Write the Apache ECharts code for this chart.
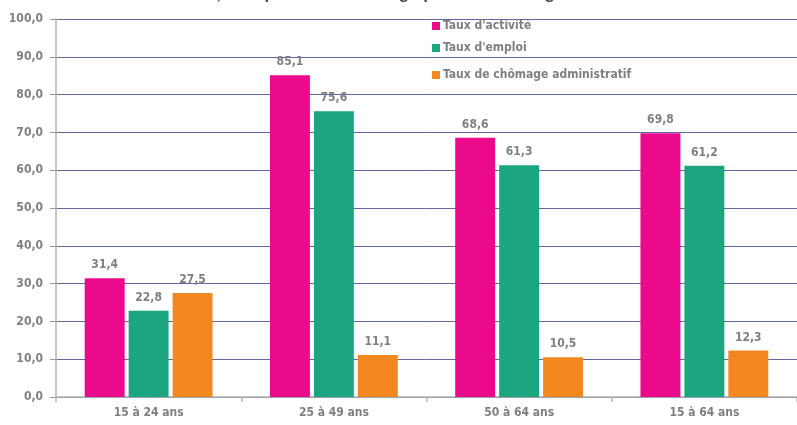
<!DOCTYPE html>
<html>
<head>
<meta charset="utf-8">
<script src="https://cdn.jsdelivr.net/npm/echarts@6/dist/echarts.min.js"></script>
<style>
html,body{margin:0;padding:0;background:#fff;}
#chart{width:797px;height:425px;}
</style>
</head>
<body>
<div id="chart"></div>
<script>
const titleText = "Taux d'activité, d'emploi et de chômage par tranche d'âge";
const categories = ["15 à 24 ans", "25 à 49 ans", "50 à 64 ans", "15 à 64 ans"];
const seriesNames = ["Taux d'activité", "Taux d'emploi", "Taux de chômage administratif"];
const tauxActivite = [31.4, 85.1, 68.6, 69.8];
const tauxEmploi = [22.8, 75.6, 61.3, 61.2];
const tauxChomage = [27.5, 11.1, 10.5, 12.3];
const colors = ["#EC0A8C", "#1BA67F", "#F4871F"];

const FONT = "'DejaVu Sans Condensed', sans-serif";
const GRAY = "#7f7f7f";
const fmt = v => v.toFixed(1).replace('.', ',');

const chart = echarts.init(document.getElementById('chart'), null, {renderer: 'canvas'});

function legendAt(name, top) {
  return {
    data: [name], left: 432, top: top, orient: 'vertical',
    itemWidth: 8, itemHeight: 8, itemGap: 0, padding: 0, icon: 'rect',
    textStyle: {color: GRAY, fontFamily: FONT, fontWeight: 'bold', fontSize: 12, padding: [0,0,0,-2]}
  };
}

const dataSets = [tauxActivite, tauxEmploi, tauxChomage];

chart.setOption({
  animation: false,
  title: {
    text: titleText, left: 100, top: -14, padding: 0,
    textStyle: {color: '#4a4a4a', fontFamily: "'Liberation Sans', sans-serif", fontWeight: 'bold', fontSize: 17}
  },
  legend: [legendAt(seriesNames[0], 20), legendAt(seriesNames[1], 42), legendAt(seriesNames[2], 69)],
  grid: {left: 56, right: -3, top: 19, bottom: 28, containLabel: false},
  xAxis: {
    type: 'category', data: categories,
    axisLine: {lineStyle: {color: '#b5b5b5', width: 1.5}},
    axisTick: {show: true, length: 5, lineStyle: {color: '#b5b5b5', width: 1.5}},
    axisLabel: {color: GRAY, fontFamily: FONT, fontWeight: 'bold', fontSize: 12, margin: 10}
  },
  yAxis: {
    type: 'value', min: 0, max: 100, interval: 10,
    axisLine: {show: true, lineStyle: {color: '#b5b5b5', width: 1.5}},
    axisTick: {show: true, length: 6, lineStyle: {color: '#9a9a9a'}},
    axisLabel: {color: GRAY, fontFamily: FONT, fontWeight: 'bold', fontSize: 12, margin: 13, formatter: v => fmt(v)},
    splitLine: {lineStyle: {color: '#6367a0', width: 1}}
  },
  series: dataSets.map((d, i) => ({
    name: seriesNames[i], type: 'bar', data: d,
    barGap: '10%', barCategoryGap: '31%',
    itemStyle: {color: colors[i]},
    label: {show: true, position: 'top', distance: 7, color: GRAY, fontFamily: FONT, fontWeight: 'bold', fontSize: 12, formatter: p => fmt(p.value)}
  }))
});
</script>
</body>
</html>
